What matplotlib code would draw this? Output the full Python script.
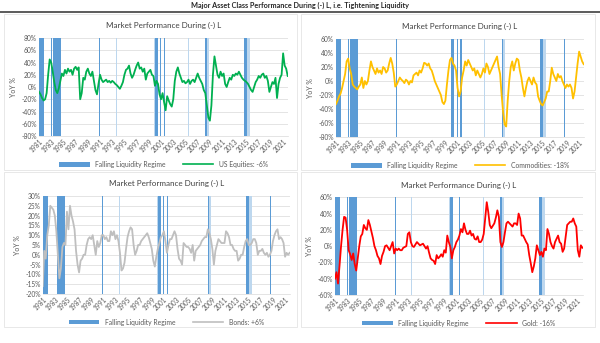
import matplotlib
matplotlib.use("Agg")
import matplotlib.pyplot as plt
from matplotlib.patches import Patch, Rectangle
from matplotlib.lines import Line2D
from matplotlib.ticker import FuncFormatter

plt.rcParams["font.family"] = ["Lato", "DejaVu Sans"]

# quarterly YoY % readings, one row of four per year, 1981..2021
years = list(range(1981, 2022))

equities = [
    -8, -12, -18, -22,  -20, -10, 20, 45,  40, 25, 8, -5,  -10, -2, 10, 22,
    18, 28, 22, 30,  25, 28, 20, 30,  33, 28, 32, -20,  -10, 15, 12, 25,
    30, 22, 18, 25,  10, -5, -12, 5,  20, 12, 8, 10,  12, 8, 10, 7,
    10, 8, 5, 3,  0, -3, 2, 8,  20, 28, 30, 35,  22, 15, 20, 28,
    35, 40, 30, 32,  25, 30, 12, 22,  25, 28, 20, 18,  2, 10, 5, -12,
    -20, -10, -25, -38,  -15, -22, -28, -32,  -20, 10, 25, 32,  22, 15, 8, 10,
    6, 8, 12, 5,  10, 12, 8, 15,  22, 15, 10, 5,  -5, -10, -30, -50,
    -55, -30, 20, 50,  35, 20, 15, 25,  18, 22, 5, 0,  8, 15, 12, 20,
    18, 22, 20, 25,  20, 15, 12, 10,  8, 5, 0, -5,  -8, 0, 8, 12,
    18, 15, 20, 22,  15, 18, 10, -8,  0, 8, 5, 15,  -18, 5, 15, 20,
    55, 35, 30, 18,
]

commodities = [
    -33, -28, -22, -18,  -10, 0, 10, 28,  32, 18, 10, -5,  -8, -10, -12, -8,
    -5, 5, -10, 0,  -5, 0, 15, 28,  20, 15, 10, 18,  12, 15, 10, 20,
    18, 12, 15, 25,  33, 25, 12, -8,  -5, 0, 5, 2,  0, -3, 2, 0,
    -5, 0, -2, 8,  10, 12, 8, 15,  12, 18, 26, 25,  22, 25, 18, 15,
    8, 0, -5, -10,  -15, -20, -30, -33,  -28, -5, 15, 30,  33, 25, 22, 15,
    -10, -22, -15, 5,  15, 28, 22, 30,  25, 20, 15, 18,  8, 15, 10, 5,
    10, 18, 12, 25,  20, 10, 15, 20,  25, 30, 35, 20,  10, -20, -45, -62,
    -65, -28, 0, 20,  28, 15, 25, 32,  30, 15, 5, -10,  -22, -10, 0, 5,
    0, -5, 5, -2,  -5, -22, -28, -33,  -35, -30, -25, -15,  -15, 0, 19, 10,
    5, 0, 10, 5,  7, 0, -5, -10,  -5, -8, -5, -10,  -25, -15, 5, 25,
    42, 35, 28, 24,
]

bonds = [
    -16, 2, -2, 10,  15, 25, 24, 23,  20, 12, 0, -12,  -7, 4, 6, 5,
    22, 13, 25, 20,  17, 13, 2, -5,  -9, -3, -2, 0,  0, 5, 8, 9,
    8, 10, 5, 0,  7, 4, 6, 10,  10, 8, 9, 7,  7, 12, 10, 12,
    8, 10, 7, 1,  -8, -7, -4, 3,  9, 12, 14, 13,  5, 0, 2, 5,
    5, 7, 8, 9,  10, 11, 9, 6,  3, -3, -6, -1,  3, 6, 9, 10,
    12, 7, 1, 5,  8, 8, 10, 12,  10, 3, -2, -3,  -5, 6, 5, 4,
    4, 3, 1, 5,  -3, 2, 3, 4,  5, 7, 8, 9,  9, 13, 11, 8,
    3, -5, 2, 5,  8, 7, 6, 6,  6, 12, 11, 9,  5, 5, 3, 2,
    2, -3, -2, 0,  0, 4, 7, 8,  5, 5, 6, 8,  8, 6, 0, 2,
    2, 3, 1, 0,  1, -1, 0, 2,  7, 10, 12, 13,  8, 9, 8, 6,
    -1, 1, 0, 1,
]

gold = [
    -40, -32, -46, -24,  0, 20, 36, 35,  20, -5, -10, -17,  -9, -22, -30, -15,
    0, 12, 15, 26,  22, 20, 32, 26,  18, 10, 0, -5,  -12, -15, -22, -12,
    -7, 0, 1, -2,  -5, 0, 5, -9,  -3, -5, -3, -5,  -5, -2, -1, 0,
    15, 17, 5, 0,  -1, 2, 5, 3,  1, 2, 3, 0,  -3, 0, -8, -15,
    -17, -18, -22, -11,  -15, -13, -10, -13,  -5, -8, 13, 5,  -1, -15, -5, -1,
    5, 8, 13, 21,  17, 28, 20, 15,  15, 19, 13, 15,  9, 8, 12, 5,
    5, 8, 15, 34,  54, 42, 26, 22,  25, 28, 35, 44,  36, 5, -1, 5,
    17, 28, 30, 28,  26, 24, 28, 28,  26, 40, 34, 13,  13, 9, 5, 2,
    -11, -21, -32, -25,  -15, 1, -5, -11,  -7, -13, -3, -5,  21, 15, 5, 0,
    -3, 5, 9, 13,  5, 3, -7, -3,  11, 26, 28, 30,  30, 34, 28, 24,
    -5, -13, 1, -2,
]

# falling liquidity regime periods (start, end, strong?)
regimes = [
    (1981.0, 1981.85, True), (1983.0, 1983.1, True), (1983.3, 1984.6, True),
    (1990.85, 1991.0, True), (1993.6, 1993.7, False),
    (1999.85, 1999.95, False), (1999.95, 2000.45, True),
    (2000.9, 2001.0, True), (2001.45, 2001.65, True), (2005.4, 2005.5, False),
    (2008.25, 2008.5, True), (2008.5, 2008.8, False),
    (2014.6, 2015.1, True), (2015.1, 2015.55, False), (2018.5, 2018.6, True),
]

panels = [
    ("US Equities: -6%", equities, "#00B050", (-80, 80, 20)),
    ("Commodities: -18%", commodities, "#FFC000", (-80, 60, 20)),
    ("Bonds: +6%", bonds, "#BFBFBF", (-20, 30, 5)),
    ("Gold: -16%", gold, "#FF0000", (-60, 60, 20)),
]

# axes rectangles in figure fractions
rects = [
    (0.065, 0.6035, 0.415, 0.2857),
    (0.560, 0.6006, 0.4133, 0.2857),
    (0.0712, 0.1429, 0.412, 0.2857),
    (0.5583, 0.1400, 0.4128, 0.2848),
]
boxes = [(0.006, 0.504, 0.489, 0.455), (0.502, 0.504, 0.49, 0.455),
         (0.006, 0.047, 0.489, 0.452), (0.502, 0.047, 0.49, 0.452)]

blue = "#5B9BD5"
light_blue = "#BDD7EE"
grey_txt = "#595959"

fig = plt.figure(figsize=(6, 3.43), dpi=100)
fig.text(0.5, 0.984, "Major Asset Class Performance During (-) L, i.e. Tightening Liquidity",
         ha="center", va="center", fontsize=5.2, fontweight="bold", color="#262626")
fig.add_artist(Line2D([0, 1], [0.966, 0.966], color="#404040", lw=1.2))

x = [y + q / 4 for y in years for q in range(4)]

for (label, vals, col, (lo, hi, step)), r, b in zip(panels, rects, boxes):
    fig.add_artist(Rectangle((b[0], b[1]), b[2], b[3], transform=fig.transFigure,
                             fill=False, edgecolor="#E4E4E4", lw=0.6))
    ax = fig.add_axes(r)
    for s, e, strong in regimes:
        ax.axvspan(s, e, color=blue if strong else light_blue, lw=0, zorder=1)
    ax.plot(x[:len(vals)], vals, color=col, lw=1.3, zorder=3)
    ax.set_xlim(1981.0, 2021.8)
    ax.set_ylim(lo, hi)
    ax.set_yticks(range(lo, hi + 1, step))
    ax.yaxis.set_major_formatter(FuncFormatter(lambda v, p: "%d%%" % v))
    ax.set_xticks(range(1981, 2022, 2))
    ax.set_xticklabels([str(yr) for yr in range(1981, 2022, 2)], rotation=45,
                       ha="right", rotation_mode="anchor")
    ax.tick_params(labelsize=4.8, colors=grey_txt, length=0, pad=1.5)
    ax.grid(axis="y", color="#D9D9D9", lw=0.5, zorder=0)
    ax.set_axisbelow(True)
    for sp in ["top", "right", "left"]:
        ax.spines[sp].set_visible(False)
    ax.spines["bottom"].set_color("#D9D9D9")
    ax.spines["bottom"].set_linewidth(0.5)
    ax.set_ylabel("YoY %", fontsize=5, color=grey_txt, labelpad=3)
    ax.set_title("Market Performance During (-) L", fontsize=5.8, color="#404040", pad=7)
    handles = [Patch(facecolor=blue, edgecolor="none"), Line2D([], [], color=col, lw=1.2)]
    ax.legend(handles, ["Falling Liquidity Regime", label], loc="upper center",
              bbox_to_anchor=(0.5, -0.19), ncol=2, frameon=False, fontsize=4.9,
              handlelength=4.5, handleheight=0.6, columnspacing=2.5, labelcolor=grey_txt)

fig.savefig("out.png", dpi=100)
